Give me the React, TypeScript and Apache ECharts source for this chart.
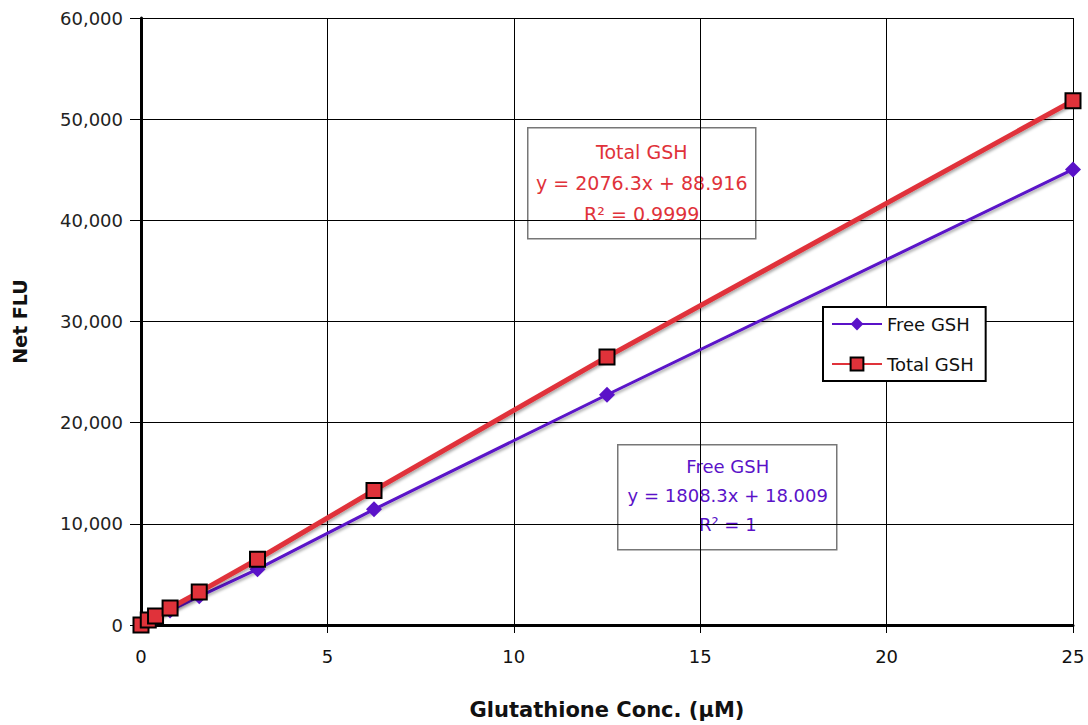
import React, { useEffect, useRef } from "react";
import * as echarts from "echarts";

const concentrations = [0, 0.195, 0.39, 0.78, 1.5625, 3.125, 6.25, 12.5, 25];
const freeGSH = [0, 370, 720, 1430, 2830, 5520, 11430, 22760, 45030];
const totalGSH = [0, 494, 899, 1680, 3250, 6500, 13300, 26500, 51820];
const yTicks = [0, 10000, 20000, 30000, 40000, 50000, 60000];
const xTicks = [0, 5, 10, 15, 20, 25];
const totalLabel = ["Total GSH", "y = 2076.3x + 88.916", "R² = 0.9999"];
const freeLabel = ["Free GSH", "y = 1808.3x + 18.009", "R² = 1"];

const RED = "#e0323a";
const PURPLE = "#5a12c8";
const FONT = "'Comic Sans MS', 'DejaVu Sans', sans-serif";

export default function App() {
  const ref = useRef<HTMLDivElement>(null);
  useEffect(() => {
    if (!ref.current) return;
    const chart = echarts.init(ref.current, undefined, { renderer: "svg" });
    const pair = (xs: number[], ys: number[]) => xs.map((x, i) => [x, ys[i]]);
    const option: any = {
      animation: false,
      backgroundColor: "#ffffff",
      grid: { left: 141, top: 18, right: 15, bottom: 98, containLabel: false },
      xAxis: {
        type: "value",
        min: xTicks[0],
        max: xTicks[xTicks.length - 1],
        interval: 5,
        name: "Glutathione Conc. (μM)",
        nameLocation: "middle",
        nameGap: 74,
        nameTextStyle: { fontFamily: FONT, fontSize: 21, fontWeight: "bold", color: "#111" },
        axisLine: { show: true, onZero: false, lineStyle: { color: "#000", width: 3 } },
        axisTick: { show: true, inside: false, length: 8, lineStyle: { color: "#000", width: 1 } },
        axisLabel: { fontFamily: FONT, fontSize: 18, color: "#111", margin: 22 },
        splitLine: { show: true, lineStyle: { color: "#000", width: 1 } },
      },
      yAxis: {
        type: "value",
        min: yTicks[0],
        max: yTicks[yTicks.length - 1],
        interval: 10000,
        name: "Net FLU",
        nameLocation: "middle",
        nameGap: 112,
        nameRotate: 90,
        nameTextStyle: { fontFamily: "'DejaVu Sans', sans-serif", fontSize: 19, fontWeight: "bold", color: "#111" },
        axisLine: { show: true, lineStyle: { color: "#000", width: 3 } },
        axisTick: { show: true, inside: false, length: 11, lineStyle: { color: "#000", width: 1 } },
        axisLabel: {
          fontFamily: "'DejaVu Sans', sans-serif",
          fontSize: 18,
          color: "#222",
          margin: 18,
          formatter: (v: number) => v.toLocaleString("en-US"),
        },
        splitLine: { show: true, lineStyle: { color: "#000", width: 1 } },
      },
      legend: {
        left: 823,
        top: 307,
        orient: "vertical",
        itemGap: 22,
        itemWidth: 50,
        itemHeight: 16,
        padding: [8, 12, 8, 8],
        backgroundColor: "#fff",
        borderColor: "#000",
        borderWidth: 2,
        textStyle: { fontFamily: FONT, fontSize: 18, color: "#111" },
        data: ["Free GSH", "Total GSH"],
      },
      series: [
        {
          name: "Free GSH",
          type: "line",
          data: pair(concentrations, freeGSH),
          symbol: "diamond",
          symbolSize: 16,
          z: 3,
          itemStyle: { color: PURPLE, borderColor: PURPLE, borderWidth: 0 },
          lineStyle: { color: PURPLE, width: 3, shadowColor: "rgba(0,0,0,0.35)", shadowBlur: 3, shadowOffsetX: 1, shadowOffsetY: 2 },
        },
        {
          name: "Total GSH",
          type: "line",
          data: pair(concentrations, totalGSH),
          symbol: "rect",
          symbolSize: 15,
          z: 4,
          itemStyle: { color: RED, borderColor: "#000", borderWidth: 2 },
          lineStyle: { color: RED, width: 5, shadowColor: "rgba(0,0,0,0.35)", shadowBlur: 3, shadowOffsetX: 1, shadowOffsetY: 2 },
        },
      ],
      graphic: [
        {
          type: "group",
          left: 527,
          top: 127,
          children: [
            { type: "rect", shape: { x: 0, y: 0, width: 228, height: 111 }, style: { fill: "#fff", stroke: "#777", lineWidth: 1.5 } },
            ...totalLabel.map((t, i) => ({
              type: "text",
              x: 114,
              y: 24 + i * 31,
              style: { text: t, fill: RED, font: `19px ${FONT}`, align: "center", verticalAlign: "middle" },
            })),
          ],
        },
        {
          type: "group",
          left: 617,
          top: 444,
          children: [
            { type: "rect", shape: { x: 0, y: 0, width: 219, height: 105 }, style: { fill: "#fff", stroke: "#777", lineWidth: 1.5 } },
            ...freeLabel.map((t, i) => ({
              type: "text",
              x: 110,
              y: 22 + i * 29,
              style: { text: t, fill: PURPLE, font: `18px ${FONT}`, align: "center", verticalAlign: "middle" },
            })),
          ],
        },
      ],
    };
    chart.setOption(option);
    return () => chart.dispose();
  }, []);
  return <div ref={ref} style={{ position: "fixed", left: 0, top: 0, width: 1088, height: 725 }} />;
}
